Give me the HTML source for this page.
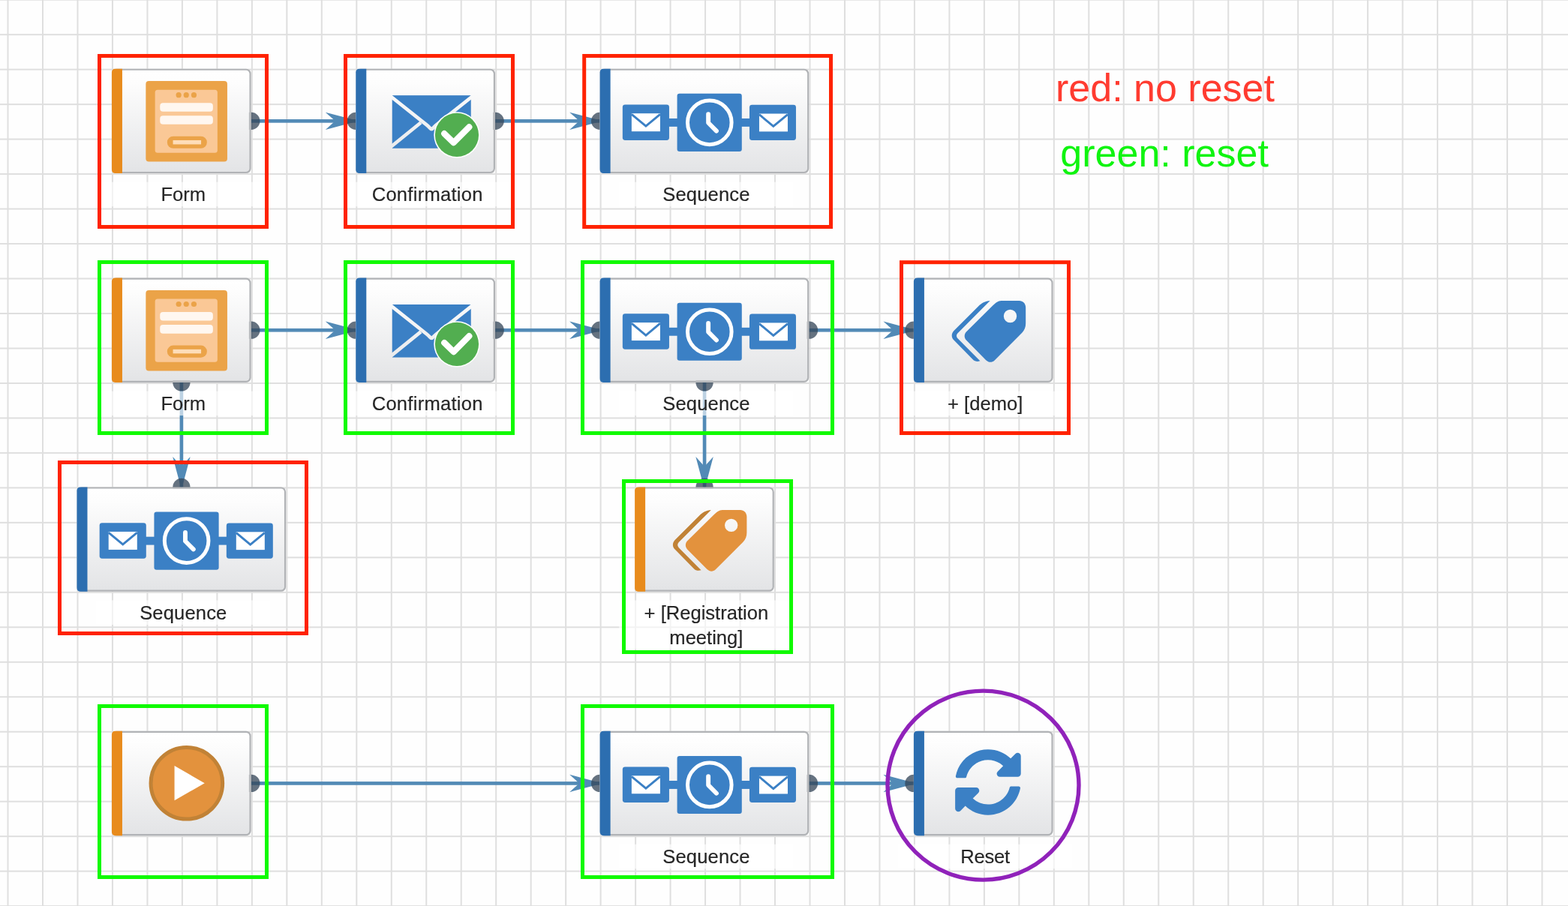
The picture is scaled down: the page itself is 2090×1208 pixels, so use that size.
<!DOCTYPE html>
<html lang="en"><head><meta charset="utf-8"><title>Campaign reset diagram</title>
<style>
html,body{margin:0;padding:0;overflow:hidden;}
body{width:2090px;height:1208px;overflow:hidden;background:#fefefe;}
svg{display:block;position:absolute;left:0;top:0;will-change:transform;}
text{font-family:"Liberation Sans",Arial,Helvetica,sans-serif;}
.lbl{font-size:25.575px;fill:#262626;stroke:#262626;stroke-width:0.18px;text-anchor:middle;}
.leg{font-size:52px;text-anchor:middle;}
</style></head><body>
<svg width="2090" height="1208" viewBox="0 0 2090 1208" role="img" aria-label="Campaign diagram: red boxes are not reset, green boxes are reset">
<defs>
<linearGradient id="ng" x1="0" y1="0" x2="0" y2="1"><stop offset="0" stop-color="#ffffff"/><stop offset="0.12" stop-color="#fdfdfd"/><stop offset="1" stop-color="#e3e4e6"/></linearGradient>
<g id="i-form">
<rect x="45.4" y="16.4" width="108.6" height="107.5" rx="4" fill="#eba348"/>
<rect x="57.7" y="28.1" width="83.2" height="84.1" rx="3.5" fill="#fac896"/>
<circle cx="89.2" cy="35" r="3.6" fill="#eba348"/>
<circle cx="99.3" cy="35" r="3.6" fill="#eba348"/>
<circle cx="109.5" cy="35" r="3.6" fill="#eba348"/>
<rect x="64.3" y="45.5" width="70.6" height="11.6" rx="4" fill="#fff7f0"/>
<rect x="64.3" y="62.6" width="70.6" height="11.6" rx="4" fill="#fff7f0"/>
<rect x="73.9" y="90.1" width="53" height="16.1" rx="8" fill="#eba348"/>
<rect x="81.6" y="95.3" width="37.5" height="5.5" fill="#feddb8"/>
</g>
<mask id="envmask" maskUnits="userSpaceOnUse" x="40" y="30" width="120" height="80">
<rect x="48.18" y="35.43" width="105.39" height="70.78" fill="#fff"/>
<g fill="none" stroke="#000" stroke-width="4.7">
<path d="M44 34.88 L94.5 75 C98.5 78.2 99.5 80.5 100.9 80.5 C102.3 80.5 103.3 78.2 107.3 75 L157.8 34.88"/>
<path d="M44 106.3 L86.6 71.8 M157.8 106.3 L115.2 71.8"/>
</g></mask>
<g id="i-conf">
<rect x="48.18" y="35.43" width="105.39" height="70.78" fill="#3b80c5" mask="url(#envmask)"/>
<circle cx="134.69" cy="88.32" r="30.7" fill="#ffffff"/>
<circle cx="134.69" cy="88.32" r="29.1" fill="#52ae50"/>
<path d="M117.94 86.55 L130.37 98.58 L151.05 77.66" fill="none" stroke="#ffffff" stroke-width="8.2" stroke-linecap="round" stroke-linejoin="round"/>
</g>
<g id="i-seq">
<rect x="88" y="66.3" width="116" height="10.9" fill="#3b80c5"/>
<rect x="30.2" y="47.75" width="62.13" height="47.5" rx="3.4" fill="#3b80c5"/>
<rect x="42.23" y="59.55" width="38.07" height="24" fill="#ffffff"/>
<path d="M42.23 60.7 L61.27 76.5 L80.3 60.7" fill="none" stroke="#3b80c5" stroke-width="2.9"/>
<rect x="199.35" y="48.1" width="62" height="47.2" rx="3.4" fill="#3b80c5"/>
<rect x="212.33" y="59.9" width="38" height="23.85" fill="#ffffff"/>
<path d="M212.33 61 L231.2 76.8 L250.33 61" fill="none" stroke="#3b80c5" stroke-width="2.9"/>
<rect x="102.95" y="33.18" width="86.2" height="77.07" rx="3.2" fill="#3b80c5"/>
<circle cx="146.16" cy="71.7" r="29.3" fill="none" stroke="#ffffff" stroke-width="5"/>
<path d="M144.5 60.5 L144.5 72.1 L155.3 83" fill="none" stroke="#ffffff" stroke-width="5.9" stroke-linecap="round" stroke-linejoin="round"/>
</g>
<g id="i-tagb" transform="translate(42.1,21.6) scale(0.08276)">
<path d="M720 108 C640 115 580 150 540 190 L135 595 C95 640 95 700 135 740 L440 1050 C465 1078 490 1085 520 1085 L560 1078 L200 715 C175 690 175 655 200 630 Z" fill="#3b80c5"/>
<path d="M900 108 L1190 108 C1250 108 1295 155 1295 215 L1295 470 C1295 530 1275 585 1235 625 L790 1070 C750 1105 700 1105 655 1065 L340 745 C300 705 300 645 340 605 L760 190 C805 145 850 108 900 108 Z M1045 250 A105 105 0 1 0 1045 460 A105 105 0 1 0 1045 250 Z" fill="#3b80c5" fill-rule="evenodd"/>
</g>
<g id="i-tago" transform="translate(42.1,21.6) scale(0.08276)">
<path d="M720 108 C640 115 580 150 540 190 L135 595 C95 640 95 700 135 740 L440 1050 C465 1078 490 1085 520 1085 L560 1078 L200 715 C175 690 175 655 200 630 Z" fill="#c18236"/>
<path d="M900 108 L1190 108 C1250 108 1295 155 1295 215 L1295 470 C1295 530 1275 585 1235 625 L790 1070 C750 1105 700 1105 655 1065 L340 745 C300 705 300 645 340 605 L760 190 C805 145 850 108 900 108 Z M1045 250 A105 105 0 1 0 1045 460 A105 105 0 1 0 1045 250 Z" fill="#e3923d" fill-rule="evenodd"/>
</g>
<g id="i-play">
<circle cx="99.9" cy="69.6" r="47.8" fill="#e3923d" stroke="#c18236" stroke-width="5"/>
<path d="M83.6 46.4 L123.8 69.5 L83.6 92.5 Z" fill="#ffffff"/>
</g>
<g id="i-reset" transform="translate(53.8,23) scale(0.1766)"><path d="M370.72 133.28C339.458 104.008 298.888 87.962 255.848 88c-77.458.068-144.328 53.178-162.791 126.85-1.344 5.363-6.122 9.15-11.651 9.15H24.103c-7.498 0-13.194-6.807-11.807-14.176C33.933 94.924 134.813 8 256 8c66.448 0 126.791 26.136 171.315 68.685L463.03 40.97C478.149 25.851 504 36.559 504 57.941V192c0 13.255-10.745 24-24 24H345.941c-21.382 0-32.09-25.851-16.971-40.971l41.75-41.749zM32 296h134.059c21.382 0 32.09 25.851 16.971 40.971l-41.75 41.75c31.262 29.273 71.835 45.319 114.876 45.28 77.418-.07 144.315-53.144 162.787-126.849 1.344-5.363 6.122-9.15 11.651-9.15h57.304c7.498 0 13.194 6.807 11.807 14.176C478.067 417.076 377.187 504 256 504c-66.448 0-126.791-26.136-171.315-68.685L48.97 471.03C33.851 486.149 8 475.441 8 454.059V320c0-13.255 10.745-24 24-24z" fill="#3b80c5"/></g>
</defs>
<rect x="0" y="0" width="2090" height="1208" fill="#fefefe"/>
<g id="grid-lines" fill="#dfdfdf">
<rect x="9.52" y="0" width="2" height="1208"/>
<rect x="55.997" y="0" width="2" height="1208"/>
<rect x="102.474" y="0" width="2" height="1208"/>
<rect x="148.951" y="0" width="2" height="1208"/>
<rect x="195.428" y="0" width="2" height="1208"/>
<rect x="241.905" y="0" width="2" height="1208"/>
<rect x="288.382" y="0" width="2" height="1208"/>
<rect x="334.859" y="0" width="2" height="1208"/>
<rect x="381.336" y="0" width="2" height="1208"/>
<rect x="427.813" y="0" width="2" height="1208"/>
<rect x="474.29" y="0" width="2" height="1208"/>
<rect x="520.767" y="0" width="2" height="1208"/>
<rect x="567.244" y="0" width="2" height="1208"/>
<rect x="613.721" y="0" width="2" height="1208"/>
<rect x="660.198" y="0" width="2" height="1208"/>
<rect x="706.675" y="0" width="2" height="1208"/>
<rect x="753.152" y="0" width="2" height="1208"/>
<rect x="799.629" y="0" width="2" height="1208"/>
<rect x="846.106" y="0" width="2" height="1208"/>
<rect x="892.583" y="0" width="2" height="1208"/>
<rect x="939.06" y="0" width="2" height="1208"/>
<rect x="985.537" y="0" width="2" height="1208"/>
<rect x="1032.014" y="0" width="2" height="1208"/>
<rect x="1078.491" y="0" width="2" height="1208"/>
<rect x="1124.968" y="0" width="2" height="1208"/>
<rect x="1171.445" y="0" width="2" height="1208"/>
<rect x="1217.922" y="0" width="2" height="1208"/>
<rect x="1264.399" y="0" width="2" height="1208"/>
<rect x="1310.876" y="0" width="2" height="1208"/>
<rect x="1357.353" y="0" width="2" height="1208"/>
<rect x="1403.83" y="0" width="2" height="1208"/>
<rect x="1450.307" y="0" width="2" height="1208"/>
<rect x="1496.784" y="0" width="2" height="1208"/>
<rect x="1543.261" y="0" width="2" height="1208"/>
<rect x="1589.738" y="0" width="2" height="1208"/>
<rect x="1636.215" y="0" width="2" height="1208"/>
<rect x="1682.692" y="0" width="2" height="1208"/>
<rect x="1729.169" y="0" width="2" height="1208"/>
<rect x="1775.646" y="0" width="2" height="1208"/>
<rect x="1822.123" y="0" width="2" height="1208"/>
<rect x="1868.6" y="0" width="2" height="1208"/>
<rect x="1915.077" y="0" width="2" height="1208"/>
<rect x="1961.554" y="0" width="2" height="1208"/>
<rect x="2008.031" y="0" width="2" height="1208"/>
<rect x="2054.508" y="0" width="2" height="1208"/>
<rect x="0" y="-1.3" width="2090" height="2"/>
<rect x="0" y="45.177" width="2090" height="2"/>
<rect x="0" y="91.654" width="2090" height="2"/>
<rect x="0" y="138.131" width="2090" height="2"/>
<rect x="0" y="184.608" width="2090" height="2"/>
<rect x="0" y="231.085" width="2090" height="2"/>
<rect x="0" y="277.562" width="2090" height="2"/>
<rect x="0" y="324.039" width="2090" height="2"/>
<rect x="0" y="370.516" width="2090" height="2"/>
<rect x="0" y="416.993" width="2090" height="2"/>
<rect x="0" y="463.47" width="2090" height="2"/>
<rect x="0" y="509.947" width="2090" height="2"/>
<rect x="0" y="556.424" width="2090" height="2"/>
<rect x="0" y="602.901" width="2090" height="2"/>
<rect x="0" y="649.378" width="2090" height="2"/>
<rect x="0" y="695.855" width="2090" height="2"/>
<rect x="0" y="742.332" width="2090" height="2"/>
<rect x="0" y="788.809" width="2090" height="2"/>
<rect x="0" y="835.286" width="2090" height="2"/>
<rect x="0" y="881.763" width="2090" height="2"/>
<rect x="0" y="928.24" width="2090" height="2"/>
<rect x="0" y="974.717" width="2090" height="2"/>
<rect x="0" y="1021.194" width="2090" height="2"/>
<rect x="0" y="1067.671" width="2090" height="2"/>
<rect x="0" y="1114.148" width="2090" height="2"/>
<rect x="0" y="1160.625" width="2090" height="2"/>
<rect x="0" y="1207.102" width="2090" height="2"/>
</g>
<g id="wires">
<rect x="334.859" y="159.046" width="139.431" height="4.648" fill="#528ab6"/>
<path d="M477.69 161.37 L433.79 149.67 L446.79 161.37 L433.79 173.07 Z" fill="#528ab6"/>
<rect x="660.198" y="159.046" width="139.431" height="4.648" fill="#528ab6"/>
<path d="M803.029 161.37 L759.129 149.67 L772.129 161.37 L759.129 173.07 Z" fill="#528ab6"/>
<rect x="334.859" y="437.908" width="139.431" height="4.648" fill="#528ab6"/>
<path d="M477.69 440.232 L433.79 428.532 L446.79 440.232 L433.79 451.932 Z" fill="#528ab6"/>
<rect x="660.198" y="437.908" width="139.431" height="4.648" fill="#528ab6"/>
<path d="M803.029 440.232 L759.129 428.532 L772.129 440.232 L759.129 451.932 Z" fill="#528ab6"/>
<rect x="1078.491" y="437.908" width="139.431" height="4.648" fill="#528ab6"/>
<path d="M1221.322 440.232 L1177.422 428.532 L1190.422 440.232 L1177.422 451.932 Z" fill="#528ab6"/>
<rect x="239.581" y="509.947" width="4.648" height="139.431" fill="#528ab6"/>
<path d="M241.905 652.778 L230.205 608.878 L241.905 621.878 L253.605 608.878 Z" fill="#528ab6"/>
<rect x="936.736" y="509.947" width="4.648" height="139.431" fill="#528ab6"/>
<path d="M939.06 652.778 L927.36 608.878 L939.06 621.878 L950.76 608.878 Z" fill="#528ab6"/>
<rect x="334.859" y="1042.109" width="464.77" height="4.648" fill="#528ab6"/>
<path d="M803.029 1044.433 L759.129 1032.733 L772.129 1044.433 L759.129 1056.133 Z" fill="#528ab6"/>
<rect x="1078.491" y="1042.109" width="139.431" height="4.648" fill="#528ab6"/>
<path d="M1221.322 1044.433 L1177.422 1032.733 L1190.422 1044.433 L1177.422 1056.133 Z" fill="#528ab6"/>
</g>
<g id="ports" fill="#344658" fill-opacity="0.76">
<circle cx="334.859" cy="161.37" r="11.619"/>
<circle cx="474.29" cy="161.37" r="11.619"/>
<circle cx="660.198" cy="161.37" r="11.619"/>
<circle cx="799.629" cy="161.37" r="11.619"/>
<circle cx="334.859" cy="440.232" r="11.619"/>
<circle cx="474.29" cy="440.232" r="11.619"/>
<circle cx="660.198" cy="440.232" r="11.619"/>
<circle cx="799.629" cy="440.232" r="11.619"/>
<circle cx="1078.491" cy="440.232" r="11.619"/>
<circle cx="1217.922" cy="440.232" r="11.619"/>
<circle cx="241.905" cy="509.947" r="11.619"/>
<circle cx="241.905" cy="649.378" r="11.619"/>
<circle cx="939.06" cy="509.947" r="11.619"/>
<circle cx="939.06" cy="649.378" r="11.619"/>
<circle cx="334.859" cy="1044.433" r="11.619"/>
<circle cx="799.629" cy="1044.433" r="11.619"/>
<circle cx="1078.491" cy="1044.433" r="11.619"/>
<circle cx="1217.922" cy="1044.433" r="11.619"/>
</g>
<g transform="translate(148.951,91.654)">
<rect x="0" y="0" width="185.708" height="139.431" rx="6.5" fill="#b1b3b6"/>
<rect x="0" y="2.2" width="183.508" height="135.031" rx="4.4" fill="url(#ng)"/>
<path d="M14 0 H4.8 Q0 0 0 4.8 V134.631 Q0 139.431 4.8 139.431 H14 Z" fill="#e88b1c"/>
<use href="#i-form"/>
</g>
<g transform="translate(474.29,91.654)">
<rect x="0" y="0" width="185.708" height="139.431" rx="6.5" fill="#b1b3b6"/>
<rect x="0" y="2.2" width="183.508" height="135.031" rx="4.4" fill="url(#ng)"/>
<path d="M14 0 H4.8 Q0 0 0 4.8 V134.631 Q0 139.431 4.8 139.431 H14 Z" fill="#2c6eb0"/>
<use href="#i-conf"/>
</g>
<g transform="translate(799.629,91.654)">
<rect x="0" y="0" width="278.662" height="139.431" rx="6.5" fill="#b1b3b6"/>
<rect x="0" y="2.2" width="276.462" height="135.031" rx="4.4" fill="url(#ng)"/>
<path d="M14 0 H4.8 Q0 0 0 4.8 V134.631 Q0 139.431 4.8 139.431 H14 Z" fill="#2c6eb0"/>
<use href="#i-seq"/>
</g>
<g transform="translate(148.951,370.516)">
<rect x="0" y="0" width="185.708" height="139.431" rx="6.5" fill="#b1b3b6"/>
<rect x="0" y="2.2" width="183.508" height="135.031" rx="4.4" fill="url(#ng)"/>
<path d="M14 0 H4.8 Q0 0 0 4.8 V134.631 Q0 139.431 4.8 139.431 H14 Z" fill="#e88b1c"/>
<use href="#i-form"/>
</g>
<g transform="translate(474.29,370.516)">
<rect x="0" y="0" width="185.708" height="139.431" rx="6.5" fill="#b1b3b6"/>
<rect x="0" y="2.2" width="183.508" height="135.031" rx="4.4" fill="url(#ng)"/>
<path d="M14 0 H4.8 Q0 0 0 4.8 V134.631 Q0 139.431 4.8 139.431 H14 Z" fill="#2c6eb0"/>
<use href="#i-conf"/>
</g>
<g transform="translate(799.629,370.516)">
<rect x="0" y="0" width="278.662" height="139.431" rx="6.5" fill="#b1b3b6"/>
<rect x="0" y="2.2" width="276.462" height="135.031" rx="4.4" fill="url(#ng)"/>
<path d="M14 0 H4.8 Q0 0 0 4.8 V134.631 Q0 139.431 4.8 139.431 H14 Z" fill="#2c6eb0"/>
<use href="#i-seq"/>
</g>
<g transform="translate(1217.922,370.516)">
<rect x="0" y="0" width="185.708" height="139.431" rx="6.5" fill="#b1b3b6"/>
<rect x="0" y="2.2" width="183.508" height="135.031" rx="4.4" fill="url(#ng)"/>
<path d="M14 0 H4.8 Q0 0 0 4.8 V134.631 Q0 139.431 4.8 139.431 H14 Z" fill="#2c6eb0"/>
<use href="#i-tagb"/>
</g>
<g transform="translate(102.474,649.378)">
<rect x="0" y="0" width="278.662" height="139.431" rx="6.5" fill="#b1b3b6"/>
<rect x="0" y="2.2" width="276.462" height="135.031" rx="4.4" fill="url(#ng)"/>
<path d="M14 0 H4.8 Q0 0 0 4.8 V134.631 Q0 139.431 4.8 139.431 H14 Z" fill="#2c6eb0"/>
<use href="#i-seq"/>
</g>
<g transform="translate(846.106,649.378)">
<rect x="0" y="0" width="185.708" height="139.431" rx="6.5" fill="#b1b3b6"/>
<rect x="0" y="2.2" width="183.508" height="135.031" rx="4.4" fill="url(#ng)"/>
<path d="M14 0 H4.8 Q0 0 0 4.8 V134.631 Q0 139.431 4.8 139.431 H14 Z" fill="#e88b1c"/>
<use href="#i-tago"/>
</g>
<g transform="translate(148.951,974.717)">
<rect x="0" y="0" width="185.708" height="139.431" rx="6.5" fill="#b1b3b6"/>
<rect x="0" y="2.2" width="183.508" height="135.031" rx="4.4" fill="url(#ng)"/>
<path d="M14 0 H4.8 Q0 0 0 4.8 V134.631 Q0 139.431 4.8 139.431 H14 Z" fill="#e88b1c"/>
<use href="#i-play"/>
</g>
<g transform="translate(799.629,974.717)">
<rect x="0" y="0" width="278.662" height="139.431" rx="6.5" fill="#b1b3b6"/>
<rect x="0" y="2.2" width="276.462" height="135.031" rx="4.4" fill="url(#ng)"/>
<path d="M14 0 H4.8 Q0 0 0 4.8 V134.631 Q0 139.431 4.8 139.431 H14 Z" fill="#2c6eb0"/>
<use href="#i-seq"/>
</g>
<g transform="translate(1217.922,974.717)">
<rect x="0" y="0" width="185.708" height="139.431" rx="6.5" fill="#b1b3b6"/>
<rect x="0" y="2.2" width="183.508" height="135.031" rx="4.4" fill="url(#ng)"/>
<path d="M14 0 H4.8 Q0 0 0 4.8 V134.631 Q0 139.431 4.8 139.431 H14 Z" fill="#2c6eb0"/>
<use href="#i-reset"/>
</g>
<g id="port-bases" fill="#b9bbbe">
<rect x="331.859" y="149.87" width="2.8" height="23"/>
<rect x="657.198" y="149.87" width="2.8" height="23"/>
<rect x="331.859" y="428.732" width="2.8" height="23"/>
<rect x="657.198" y="428.732" width="2.8" height="23"/>
<rect x="1075.491" y="428.732" width="2.8" height="23"/>
<rect x="230.405" y="507.247" width="23" height="2.5"/>
<rect x="230.405" y="649.978" width="23" height="1.6"/>
<rect x="927.56" y="507.247" width="23" height="2.5"/>
<rect x="927.56" y="649.978" width="23" height="1.6"/>
<rect x="331.859" y="1032.933" width="2.8" height="23"/>
<rect x="1075.491" y="1032.933" width="2.8" height="23"/>
</g>
<g id="labels">
<rect x="128.036" y="242.704" width="232.385" height="32.534" fill="#ffffff" fill-opacity="0.62"/>
<text class="lbl" x="244.229" y="267.804">Form</text>
<rect x="453.375" y="242.704" width="232.385" height="32.534" fill="#ffffff" fill-opacity="0.62"/>
<text class="lbl" x="569.698" y="267.804" letter-spacing="0.26">Confirmation</text>
<rect x="825.191" y="242.704" width="232.385" height="32.534" fill="#ffffff" fill-opacity="0.62"/>
<text class="lbl" x="941.454" y="267.804" letter-spacing="0.14">Sequence</text>
<rect x="128.036" y="521.566" width="232.385" height="32.534" fill="#ffffff" fill-opacity="0.62"/>
<text class="lbl" x="244.229" y="546.666">Form</text>
<rect x="453.375" y="521.566" width="232.385" height="32.534" fill="#ffffff" fill-opacity="0.62"/>
<text class="lbl" x="569.698" y="546.666" letter-spacing="0.26">Confirmation</text>
<rect x="825.191" y="521.566" width="232.385" height="32.534" fill="#ffffff" fill-opacity="0.62"/>
<text class="lbl" x="941.454" y="546.666" letter-spacing="0.14">Sequence</text>
<rect x="1197.007" y="521.566" width="232.385" height="32.534" fill="#ffffff" fill-opacity="0.62"/>
<text class="lbl" x="1313.2" y="546.666">+ [demo]</text>
<rect x="128.036" y="800.428" width="232.385" height="32.534" fill="#ffffff" fill-opacity="0.62"/>
<text class="lbl" x="244.299" y="825.528" letter-spacing="0.14">Sequence</text>
<rect x="825.191" y="800.428" width="232.385" height="65.068" fill="#ffffff" fill-opacity="0.62"/>
<text class="lbl" x="941.384" y="825.528">+ [Registration</text>
<text class="lbl" x="941.384" y="858.528">meeting]</text>
<rect x="825.191" y="1125.767" width="232.385" height="32.534" fill="#ffffff" fill-opacity="0.62"/>
<text class="lbl" x="941.454" y="1150.867" letter-spacing="0.14">Sequence</text>
<rect x="1197.007" y="1125.767" width="232.385" height="32.534" fill="#ffffff" fill-opacity="0.62"/>
<text class="lbl" x="1313.1" y="1150.867" letter-spacing="-0.2">Reset</text>
</g>
<g id="annotations" fill="none" stroke-width="5">
<rect x="132.5" y="74.5" width="223" height="228" stroke="#ff2200"/>
<rect x="460.5" y="74.5" width="223" height="228" stroke="#ff2200"/>
<rect x="778.7" y="74.5" width="328.8" height="228" stroke="#ff2200"/>
<rect x="132.5" y="349.5" width="223" height="228" stroke="#10fa00"/>
<rect x="460.5" y="349.5" width="223" height="228" stroke="#10fa00"/>
<rect x="776.5" y="349.5" width="333" height="228" stroke="#10fa00"/>
<rect x="1201.5" y="349.7" width="223" height="227.8" stroke="#ff2200"/>
<rect x="79.5" y="616.5" width="329" height="228" stroke="#ff2200"/>
<rect x="831.5" y="641.5" width="223" height="228" stroke="#10fa00"/>
<rect x="132.5" y="941.5" width="223" height="228" stroke="#10fa00"/>
<rect x="776.5" y="941.5" width="333" height="228" stroke="#10fa00"/>
<ellipse cx="1310.5" cy="1047.1" rx="127.5" ry="126" stroke="#9022ba" stroke-width="5.4"/>
</g>
<g id="legend">
<text class="leg" x="1553" y="135.3" fill="#ff3b30">red: no reset</text>
<text class="leg" x="1552.1" y="222.1" fill="#10f410">green: reset</text>
</g>
</svg>
</body></html>
